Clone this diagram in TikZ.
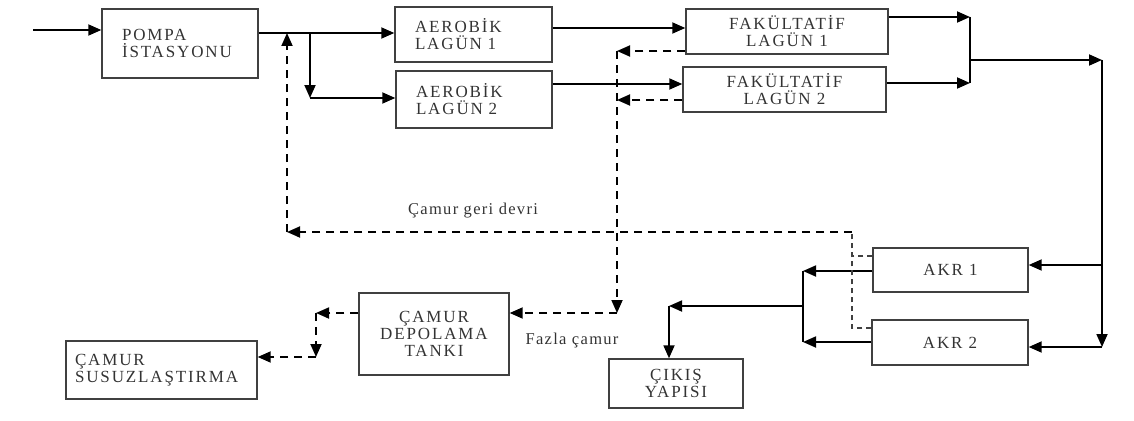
\documentclass[tikz,border=0pt]{standalone}
\usepackage{fontspec}
\setmainfont{Liberation Serif}[LetterSpace=11]
\usetikzlibrary{arrows.meta}
\begin{document}
\begin{tikzpicture}[x=1pt,y=-1pt,
  box/.style={draw=black!75,line width=1.4pt,inner sep=0pt,text=black!80,
    font=\fontsize{17}{17}\selectfont},
  lbox/.style={box,align=left,inner xsep=#1,inner ysep=0pt},
  flow/.style={line width=1.8pt,-{Triangle[length=13pt,width=11pt]}},
  line/.style={line width=1.8pt},
  dflow/.style={line width=1.8pt,dash pattern=on 8pt off 6pt,-{Triangle[length=13pt,width=11pt]}},
  tline/.style={line width=1.1pt,draw=black!75,dash pattern=on 5pt off 4pt},
  lbl/.style={text=black!80,font=\fontsize{16.5}{17}\selectfont\addfontfeature{LetterSpace=8}}]
\useasboundingbox (0,0) rectangle (1134,420);
% boxes
\node[lbox=20pt,text width=116pt,minimum height=69pt] (pompa) at (180,43.5) {POMPA\\İSTASYONU};
\node[lbox=20pt,text width=117pt,minimum height=55pt] (al1) at (473.5,34.5) {AEROBİK\\LAGÜN 1};
\node[lbox=20pt,text width=116pt,minimum height=57pt] (al2) at (474,99.5) {AEROBİK\\LAGÜN 2};
\node[box,minimum width=202pt,minimum height=45pt,align=center] (fl1) at (787,31.5) {FAKÜLTATİF\\LAGÜN 1};
\node[box,minimum width=203pt,minimum height=45pt,align=center] (fl2) at (784.5,89.5) {FAKÜLTATİF\\LAGÜN 2};
\node[box,minimum width=155pt,minimum height=44pt] (akr1) at (950.5,270) {AKR 1};
\node[box,minimum width=156pt,minimum height=45pt] (akr2) at (950,342.5) {AKR 2};
\node[box,minimum width=150pt,minimum height=82pt,align=center] (cdt) at (434,334) {ÇAMUR\\DEPOLAMA\\TANKI};
\node[box,minimum width=134pt,minimum height=49pt,align=center] (cik) at (676,383.5) {ÇIKIŞ\\YAPISI};
\node[lbox=9pt,text width=173pt,minimum height=58pt] (cs) at (161.5,370) {ÇAMUR\\SUSUZLAŞTIRMA};
% labels
\node[lbl] (lgd) at (473,211) {Çamur geri devri};
\node[lbl] (lfc) at (572,341) {Fazla çamur};
% coordinates
\coordinate (in) at (33,30);
\coordinate (j1) at (310,33);
\coordinate (j2) at (310,98);
\coordinate (r1) at (287,33);
\coordinate (r2) at (287,232);
\coordinate (f1) at (970,17);
\coordinate (f2) at (970,83);
\coordinate (fm) at (970,60);
\coordinate (e1) at (1102,60);
\coordinate (e2) at (1102,347);
\coordinate (e3) at (1102,265);
\coordinate (k1) at (803,271);
\coordinate (k2) at (803,342);
\coordinate (km) at (803,306);
\coordinate (c1) at (669,306);
\coordinate (s1) at (617,51);
\coordinate (s2) at (617,100);
\coordinate (s3) at (617,313);
\coordinate (d1) at (316,313);
\coordinate (d2) at (316,357);
\coordinate (g1) at (852,232);
\coordinate (g2) at (852,256);
\coordinate (g3) at (852,328);
% solid flow
\draw[flow] (in) -- (in -| pompa.west);
\draw[flow] (pompa.east |- j1) -- (al1.west |- j1);
\draw[flow] (j1) -- (j2);
\draw[flow] (j2) -- (al2.west |- j2);
\draw[flow] (al1.east |- 0,28) -- (fl1.west |- 0,28);
\draw[flow] (al2.east |- 0,84) -- (fl2.west |- 0,84);
\draw[flow] (fl1.east |- f1) -- (f1);
\draw[flow] (fl2.east |- f2) -- (f2);
\draw[line] (f1) -- (f2);
\draw[flow] (fm) -- (e1);
\draw[flow] (e1) -- (e2);
\draw[flow] (e3) -- (akr1.east |- e3);
\draw[flow] (e2) -- (akr2.east |- e2);
\draw[flow] (akr1.west |- k1) -- (k1);
\draw[flow] (akr2.west |- k2) -- (k2);
\draw[line] (k1) -- (k2);
\draw[flow] (km) -- (c1);
\draw[flow] (c1) -- (cik.north -| c1);
% dashed sludge
\draw[dflow] (fl1.west |- s1) -- (s1);
\draw[dflow] (fl2.west |- s2) -- (s2);
\draw[dflow] (s1) -- (s3);
\draw[dflow] (s3) -- (cdt.east |- s3);
\draw[dflow] (cdt.west |- d1) -- (d1);
\draw[dflow] (d1) -- (d2);
\draw[dflow] (d2) -- (cs.east |- d2);
% return sludge
\draw[tline] (akr1.west |- g2) -- (g2);
\draw[tline] (akr2.west |- g3) -- (g3) -- (g1);
\draw[dflow] (g1) -- (r2);
\draw[dflow] (r2) -- (r1);
\end{tikzpicture}
\end{document}
